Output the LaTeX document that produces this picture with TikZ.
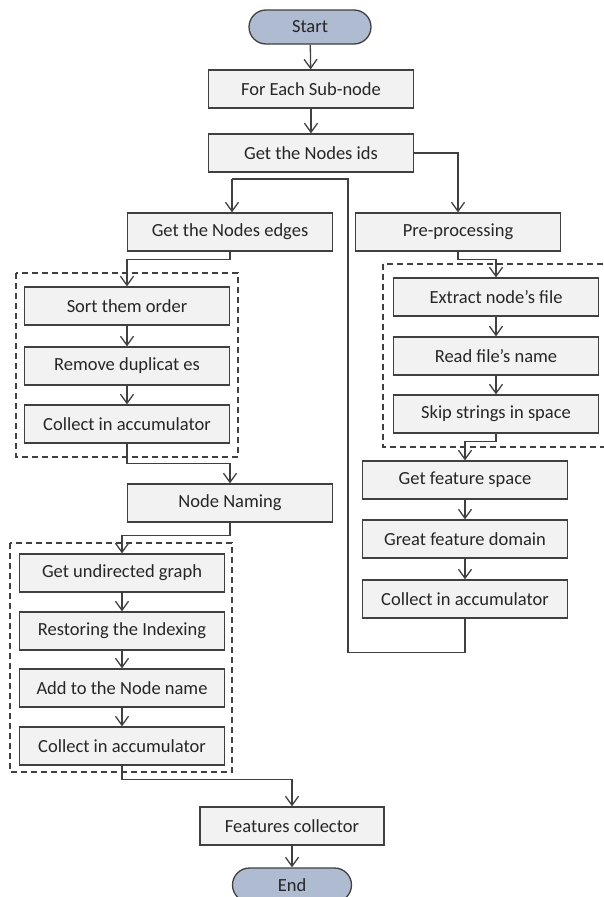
\documentclass[tikz,border=0pt]{standalone}
\usepackage{fontspec}
\setmainfont{Carlito}
\usetikzlibrary{arrows.meta}
\definecolor{boxfill}{HTML}{F2F2F2}
\definecolor{boxline}{HTML}{404040}
\definecolor{ovalfill}{HTML}{AFBBD0}
\definecolor{txt}{HTML}{262626}
\tikzset{
  stepbox/.style={draw=boxline,fill=boxfill,line width=1.3pt,minimum width=205pt,
    minimum height=38pt,inner sep=0pt,text=txt,font=\fontsize{18.5}{18.5}\selectfont},
  term/.style={draw=boxline,fill=ovalfill,line width=1.3pt,rounded corners=17pt,
    minimum width=122pt,minimum height=34pt,inner sep=0pt,text=txt,font=\fontsize{18.5}{18.5}\selectfont},
  flow/.style={draw=boxline,line width=1.3pt,-{Straight Barb[length=9pt,width=13pt]}},
  link/.style={draw=boxline,line width=1.3pt},
  group/.style={draw=boxline,line width=1.3pt,dash pattern=on 6pt off 4pt}
}
\begin{document}
\begin{tikzpicture}[x=1pt,y=-1pt]
\useasboundingbox (0,0) rectangle (603,897);
\pgfmathsetmacro{\cmid}{311}
\pgfmathsetmacro{\cleft}{127}
\pgfmathsetmacro{\cright}{496}
  % trunk
  \node[term] (start) at (310,27) {Start};
  \node[stepbox] (each) at (\cmid,89) {For Each Sub-node};
  \node[stepbox] (ids) at (\cmid,153) {Get the Nodes ids};
  % left branch
  \node[stepbox] (edges) at (230,232) {Get the Nodes edges};
  \node[stepbox] (sort) at (\cleft,306) {Sort them order};
  \node[stepbox] (dupl) at (\cleft,366) {Remove duplicat es};
  \node[stepbox] (collA) at (\cleft,424) {Collect in accumulator};
  \node[stepbox] (naming) at (230,503) {Node Naming};
  \node[stepbox] (undir) at (122,573) {Get undirected graph};
  \node[stepbox] (index) at (122,631) {Restoring the Indexing};
  \node[stepbox] (addname) at (122,688) {Add to the Node name};
  \node[stepbox] (collB) at (122,746) {Collect in accumulator};
  % right branch
  \node[stepbox] (pre) at (458,232) {Pre-processing};
  \node[stepbox] (extract) at (\cright,297) {Extract node’s file};
  \node[stepbox] (readname) at (\cright,356) {Read file’s name};
  \node[stepbox] (skip) at (\cright,414) {Skip strings in space};
  \node[stepbox] (space) at (465,480) {Get feature space};
  \node[stepbox] (domain) at (465,539) {Great feature domain};
  \node[stepbox] (collC) at (465,599) {Collect in accumulator};
  % end
  \node[stepbox,minimum width=184pt] (collector) at (292,826) {Features collector};
  \node[term,minimum width=119pt] (end) at (292,885) {End};
  % dashed groups
  \draw[group] (16,273) rectangle (238,457);
  \draw[group] (10,543) rectangle (232,772);
  \draw[group] (383,264) rectangle (615,447);
  % connectors
  \coordinate (split) at (232,179);
  \coordinate (loop) at (348,179);
  \draw[flow] (start) -- (each);
  \draw[flow] (each) -- (ids);
  \draw[flow] (ids.east) -| (pre.north);
  \draw[link] (collC.south) -- ++(0,34) -| (loop) -- (split);
  \draw[flow] (split) -- (split |- edges.north);
  \draw[flow] (edges.south) -- ++(0,8) -| (sort.north);
  \draw[flow] (sort) -- (dupl);
  \draw[flow] (dupl) -- (collA);
  \draw[flow] (collA.south) -- ++(0,20) -| (naming.north);
  \draw[flow] (naming.south) -- ++(0,13) -| (undir.north);
  \draw[flow] (undir) -- (index);
  \draw[flow] (index) -- (addname);
  \draw[flow] (addname) -- (collB);
  \draw[flow] (collB.south) -- ++(0,14) -| (collector.north);
  \draw[flow] (collector) -- (end);
  \draw[flow] (pre.south) -- ++(0,8) -| (extract.north);
  \draw[flow] (extract) -- (readname);
  \draw[flow] (readname) -- (skip);
  \draw[flow] (skip.south) -- ++(0,8) -| (space.north);
  \draw[flow] (space) -- (domain);
  \draw[flow] (domain) -- (collC);
\end{tikzpicture}
\end{document}
